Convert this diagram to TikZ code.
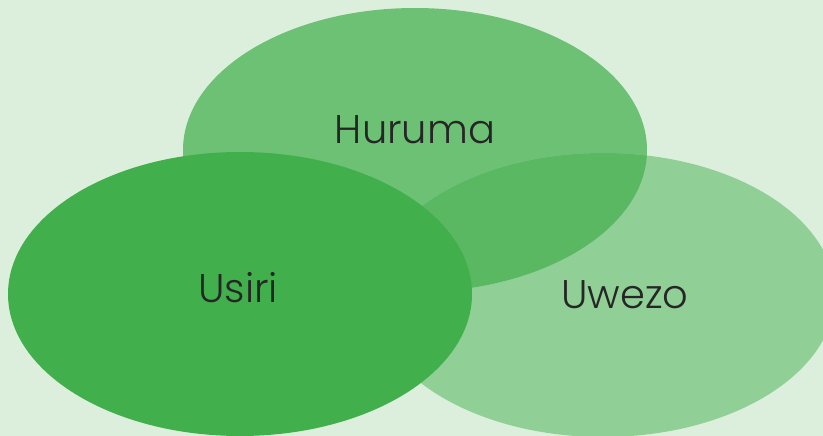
\documentclass[tikz,border=0pt]{standalone}
\usepackage{fontspec}
\setmainfont{Poppins Light}
\usetikzlibrary{positioning,shapes}
\definecolor{bgcol}{HTML}{DCEFDC}
\definecolor{hurumacol}{HTML}{6CC174}
\definecolor{uwezocol}{HTML}{90D096}
\definecolor{bothcol}{HTML}{59B861}
\definecolor{usiricol}{HTML}{41AF4B}
\definecolor{textcol}{HTML}{262626}

\begin{document}
\begin{tikzpicture}[%
        x=1pt, y=-1pt,
        every node/.style={inner sep=0pt},
        blob/.style={ellipse, minimum width=464pt, minimum height=284pt},
        word/.style={text=textcol, font=\fontsize{40}{40}\selectfont, anchor=base}
      ]
      \fill[bgcol] (0,0) rectangle (823,436);
      \useasboundingbox (0,0) rectangle (823,436);
      \begin{scope}
      \clip (0,0) rectangle (823,436);
      \node [blob] (hu) [fill=hurumacol] at (415,150) {};
      \node [blob] (uw) [fill=uwezocol] at (603,295) {};
      % overlap of the two lighter ones
      \begin{scope}
        \clip (415,150) ellipse [x radius=232, y radius=142];
        \fill[bothcol] (603,295) ellipse [x radius=232, y radius=142];
      \end{scope}
      \node [blob] (us) [fill=usiricol] at (240,294) {};
      \end{scope}
      \node [word] (t1) at (415,143) {Huruma};
      \node [word] (t2) at (238,302) {Usiri};
      \node [word] (t3) at (625,308) {Uwezo};
    \end{tikzpicture}
\end{document}
